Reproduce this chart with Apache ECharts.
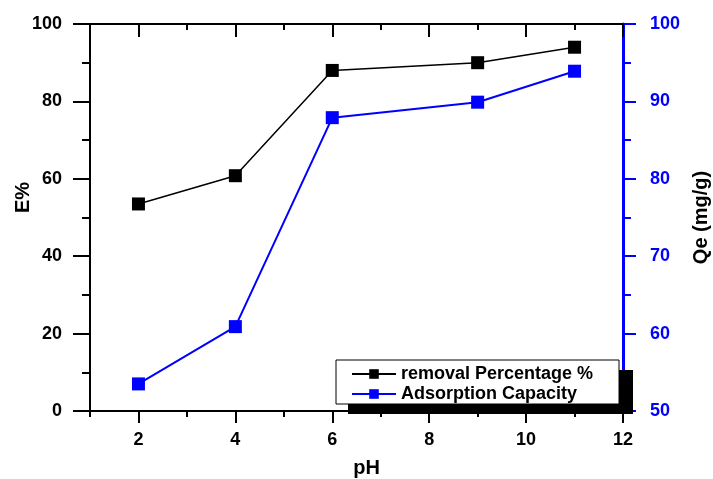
<!DOCTYPE html>
<html>
<head>
<meta charset="utf-8">
<script src="https://cdn.jsdelivr.net/npm/echarts@6/dist/echarts.min.js"></script>
<style>
  html, body { margin: 0; padding: 0; background: #fff; }
  #chart { width: 713px; height: 479px; }
</style>
</head>
<body>
<div id="chart"></div>
<script>
// data
var phValues = [2, 4, 6, 9, 11]
var removalPct = [53.5, 60.8, 88.0, 90.0, 94.0]
var adsorptionCap = [53.5, 60.9, 87.9, 89.9, 93.9]
var xMajorTicks = [2, 4, 6, 8, 10, 12]
var xMinorTicks = [1, 3, 5, 7, 9, 11]

var font = 'Liberation Sans, Arial, sans-serif'
var BLUE = '#0000ff'

function pairs (xs, ys) {
  return xs.map(function (x, i) { return [x, ys[i]] })
}

function xAxisDef (pos, ticks, len, inside, showLine, showLabel) {
  return {
    type: 'value',
    position: pos,
    min: 1,
    max: 12,
    interval: 1,
    axisLine: { show: showLine, onZero: false, lineStyle: { color: '#000', width: 2 } },
    axisTick: { show: true, inside: inside, length: len, customValues: ticks, lineStyle: { color: '#000', width: 2 } },
    axisLabel: showLabel
      ? { show: true, customValues: xMajorTicks, margin: 20, color: '#000', fontSize: 18, fontWeight: 'bold', fontFamily: font }
      : { show: false },
    splitLine: { show: false }
  }
}

var xBottom = xAxisDef('bottom', xMajorTicks, 12, false, true, true)
xBottom.name = 'pH'
xBottom.nameLocation = 'middle'
xBottom.nameGap = 47
xBottom.nameMoveOverlap = false
xBottom.nameTextStyle = { color: '#000', fontSize: 20, fontWeight: 'bold', fontFamily: font, padding: [0, 0, 0, 20] }

var chart = echarts.init(document.getElementById('chart'))
chart.setOption({
  animation: false,
  backgroundColor: '#fff',
  grid: { left: 90, right: 90, top: 24, bottom: 68, outerBoundsMode: 'none', containLabel: false },
  xAxis: [
    xBottom,
    xAxisDef('bottom', xMinorTicks, 6, false, false, false),
    xAxisDef('top', xMajorTicks, 13, true, true, false),
    xAxisDef('top', xMinorTicks, 6, true, false, false)
  ],
  yAxis: [
    {
      type: 'value',
      position: 'left',
      min: 0,
      max: 100,
      interval: 20,
      name: 'E%',
      nameLocation: 'middle',
      nameGap: 57,
      nameMoveOverlap: false,
      nameTextStyle: { color: '#000', fontSize: 20, fontWeight: 'bold', fontFamily: font, padding: [0, 0, 0, 40] },
      axisLine: { show: true, lineStyle: { color: '#000', width: 2 } },
      axisTick: { show: true, length: 17, lineStyle: { color: '#000', width: 2 } },
      minorTick: { show: true, splitNumber: 2, length: 8, lineStyle: { color: '#000', width: 2 } },
      axisLabel: { margin: 28, color: '#000', fontSize: 18, fontWeight: 'bold', fontFamily: font },
      splitLine: { show: false }
    },
    {
      type: 'value',
      position: 'right',
      min: 50,
      max: 100,
      interval: 10,
      name: 'Qe (mg/g)',
      nameLocation: 'middle',
      nameRotate: 90,
      nameGap: 68,
      nameMoveOverlap: false,
      nameTextStyle: { color: '#000', fontSize: 20, fontWeight: 'bold', fontFamily: font },
      axisLine: { show: true, lineStyle: { color: BLUE, width: 3 } },
      axisTick: { show: true, length: 13, lineStyle: { color: BLUE, width: 2 } },
      minorTick: { show: true, splitNumber: 2, length: 8, lineStyle: { color: BLUE, width: 2 } },
      axisLabel: { margin: 27, color: BLUE, fontSize: 18, fontWeight: 'bold', fontFamily: font },
      splitLine: { show: false }
    }
  ],
  legend: {
    left: 351,
    top: 364,
    padding: 0,
    orient: 'vertical',
    itemGap: 0,
    itemWidth: 44,
    itemHeight: 12,
    z: 20,
    textStyle: { color: '#000', fontSize: 18, lineHeight: 20, fontWeight: 'bold', fontFamily: font },
    data: ['removal Percentage %', 'Adsorption Capacity']
  },
  graphic: [
    { type: 'rect', z: 10, shape: { x: 348, y: 370, width: 285, height: 44 }, style: { fill: '#000' } },
    { type: 'rect', z: 11, shape: { x: 336, y: 360, width: 283, height: 44 }, style: { fill: '#fff', stroke: '#000', lineWidth: 1 } }
  ],
  series: [
    {
      name: 'removal Percentage %',
      type: 'line',
      xAxisIndex: 0,
      yAxisIndex: 0,
      data: pairs(phValues, removalPct),
      symbol: 'rect',
      symbolSize: 13,
      lineStyle: { color: '#000', width: 1.5 },
      itemStyle: { color: '#000' }
    },
    {
      name: 'Adsorption Capacity',
      type: 'line',
      xAxisIndex: 0,
      yAxisIndex: 1,
      data: pairs(phValues, adsorptionCap),
      symbol: 'rect',
      symbolSize: 13,
      lineStyle: { color: BLUE, width: 2 },
      itemStyle: { color: BLUE }
    }
  ]
})
</script>
</body>
</html>
